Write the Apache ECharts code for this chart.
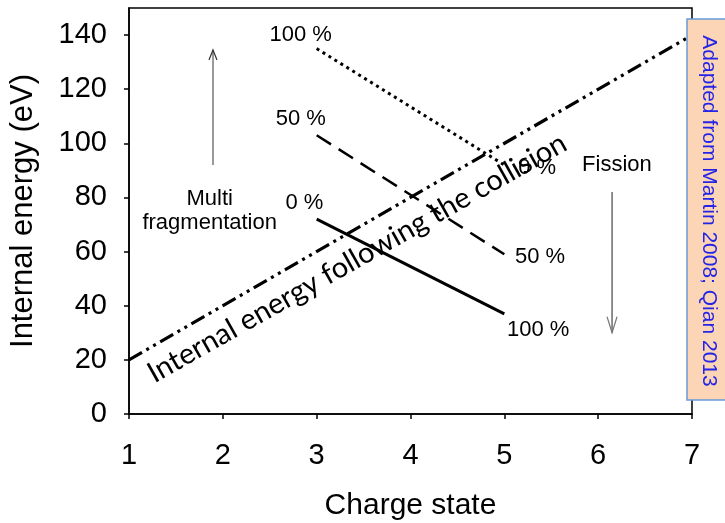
<!DOCTYPE html>
<html>
<head>
<meta charset="utf-8">
<script src="https://cdn.jsdelivr.net/npm/echarts@6/dist/echarts.min.js"></script>
<style>
html,body{margin:0;padding:0;background:#fff}
#chart{width:725px;height:523px}
</style>
</head>
<body>
<div id="chart"></div>
<script>
// 坐标轴刻度
const xTicks = [1, 2, 3, 4, 5, 6, 7];
const yTicks = [0, 20, 40, 60, 80, 100, 120, 140];

// 碰撞后的内能（点划线）
const collisionX = [1, 7];
const collisionY = [20, 140];

// 三条曲线，共用电荷态 3 -> 5
const curveX = [3, 5];
const curve0 = [72, 37];
const curve50 = [103, 59];
const curve100 = [135, 92];

// 标注文字及其位置（数据坐标）
const noteTexts = ['100 %', '50 %', '0 %', '0 %', '50 %', '100 %', 'Multi\nfragmentation', 'Fission'];
const noteX = [2.83, 2.83, 2.87, 5.35, 5.38, 5.36, 1.86, 6.2];
const noteY = [140, 109, 78, 91, 58, 31, 75, 92];

// 斜着写的说明
const slopeText = 'Internal energy following the collision';
const slopeX = 3.43;
const slopeY = 57.6;

// 箭头（x, 起点y, 终点y）
const arrowX = [1.895, 6.148];
const arrowFrom = [92, 82];
const arrowTo = [134.5, 30];

const sourceNote = 'Adapted from Martin 2008; Qian 2013';

const FONT = 'Liberation Sans, Arial, sans-serif';

function pairs(xs, ys) {
    return xs.map((x, i) => [x, ys[i]]);
}

const chart = echarts.init(document.getElementById('chart'));

const lineBase = {
    type: 'line',
    symbol: 'none',
    silent: true,
    z: 3
};

const option = {
    animation: false,
    backgroundColor: '#fff',
    grid: {
        left: 129, right: 33, top: 8, bottom: 109,
        show: true, borderColor: '#000', borderWidth: 1.5,
        outerBoundsMode: 'none'
    },
    xAxis: {
        type: 'value', min: 1, max: 7, interval: 1,
        name: 'Charge state', nameLocation: 'middle', nameGap: 77,
        nameTextStyle: { color: '#000', fontSize: 30, fontFamily: FONT },
        axisLine: { lineStyle: { color: '#000', width: 1.5 } },
        axisTick: { show: true, length: 5, lineStyle: { color: '#000', width: 1.5 } },
        axisLabel: { color: '#000', fontSize: 29, fontFamily: FONT, margin: 27 },
        splitLine: { show: false }
    },
    yAxis: {
        type: 'value', min: 0, max: 150, interval: 20,
        name: 'Internal energy (eV)', nameLocation: 'middle', nameGap: 90,
        nameTextStyle: { color: '#000', fontSize: 31, fontFamily: FONT },
        axisLine: { show: true, lineStyle: { color: '#000', width: 1.5 } },
        axisTick: { show: true, length: 5, customValues: yTicks, lineStyle: { color: '#000', width: 1.5 } },
        axisLabel: { color: '#000', fontSize: 29, fontFamily: FONT, margin: 22, customValues: yTicks },
        splitLine: { show: false }
    },
    series: [
        Object.assign({}, lineBase, {
            name: 'collision',
            data: pairs(collisionX, collisionY),
            lineStyle: { color: '#000', width: 3.2, type: [15, 5, 3, 5, 3, 5] }
        }),
        Object.assign({}, lineBase, {
            name: '0 %',
            data: pairs(curveX, curve0),
            lineStyle: { color: '#000', width: 3, type: 'solid' }
        }),
        Object.assign({}, lineBase, {
            name: '50 %',
            data: pairs(curveX, curve50),
            lineStyle: { color: '#000', width: 2.5, type: [17, 9] }
        }),
        Object.assign({}, lineBase, {
            name: '100 %',
            data: pairs(curveX, curve100),
            lineStyle: { color: '#000', width: 3, type: [3, 4] }
        }),
        {
            // 文字标注（散点本身不可见，只显示文字）
            type: 'scatter',
            silent: true,
            symbolSize: 0,
            z: 4,
            itemStyle: { opacity: 1 },
            label: {
                show: true, position: 'inside', formatter: '{b}', opacity: 1,
                color: '#000', fontSize: 22, fontFamily: FONT, lineHeight: 24
            },
            data: noteTexts.map((t, i) => ({ name: t, value: [noteX[i], noteY[i]] })).concat([{
                name: slopeText,
                value: [slopeX, slopeY],
                label: { rotate: 29.5, fontSize: 29, fontFamily: 'Lato, Carlito, sans-serif', color: '#000' }
            }])
        },
        {
            // 上下箭头
            type: 'custom',
            silent: true,
            z: 2,
            data: arrowX.map((x, i) => [x, arrowFrom[i], arrowTo[i]]),
            renderItem: function (params, api) {
                const p0 = api.coord([api.value(0), api.value(1)]);
                const p1 = api.coord([api.value(0), api.value(2)]);
                const up = p1[1] < p0[1] ? 1 : -1;
                const isUp = params.dataIndex === 0;
                const head = isUp ? 10 : 16;
                const half = isUp ? 4 : 5;
                return {
                    type: 'group',
                    children: [
                        {
                            type: 'line',
                            shape: { x1: p0[0], y1: p0[1], x2: p1[0], y2: p1[1] },
                            style: { stroke: isUp ? '#9a9a9a' : '#444', lineWidth: isUp ? 2 : 1.2 }
                        },
                        {
                            type: 'polyline',
                            shape: { points: [[p1[0] - half, p1[1] + up * head], [p1[0], p1[1]], [p1[0] + half, p1[1] + up * head]] },
                            style: { stroke: isUp ? '#333' : '#777', lineWidth: 1.2, fill: null }
                        }
                    ]
                };
            }
        }
    ],
    graphic: [
        {
            type: 'rect', z: 100,
            shape: { x: 687, y: 19, width: 60, height: 381 },
            style: { fill: '#FBD5B5', stroke: '#6B9BD6', lineWidth: 1.5 }
        },
        {
            type: 'text', z: 101,
            x: 709, y: 211, rotation: -Math.PI / 2,
            style: {
                text: sourceNote, fill: '#2424E8',
                font: '21px ' + FONT, align: 'center', verticalAlign: 'middle'
            }
        }
    ]
};

chart.setOption(option);
</script>
</body>
</html>
